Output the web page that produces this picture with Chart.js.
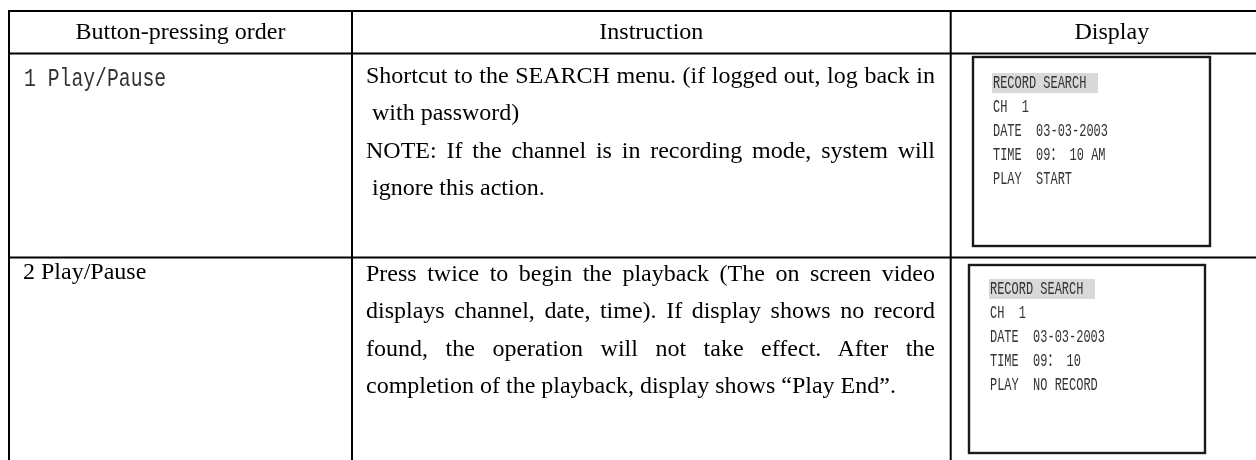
<!DOCTYPE html>
<html>
<head>
<meta charset="utf-8">
<script src="https://cdn.jsdelivr.net/npm/chart.js@4.4.1/dist/chart.umd.min.js"></script>
<style>
  html, body { margin: 0; padding: 0; background: #fff; }
  #wrap { position: relative; width: 1256px; height: 460px; overflow: hidden; }
  #grid { position: absolute; left: 0; top: 0; }
  .t { position: absolute; color: #000; font-family: "Liberation Serif", "Times New Roman", serif; font-size: 24px; line-height: 30px; white-space: pre; }
  .just { white-space: normal; text-align: justify; text-align-last: justify; }
  .mono { font-family: "Liberation Mono", "Noto Sans CJK SC", monospace; color: #333; transform-origin: 0 50%; }
  .scr { position: absolute; font-family: "Liberation Mono", "Noto Sans CJK SC", monospace; font-size: 18px; line-height: 24px; color: #333; white-space: pre; transform: scaleX(0.665); transform-origin: 0 50%; }
  .hl { position: absolute; background: #d9d9d9; }
</style>
</head>
<body>
<div id="wrap">
  <canvas id="grid" width="1256" height="460"></canvas>
</div>
<script>
// Table content
const headers = ['Button-pressing order', 'Instruction', 'Display'];
const steps = ['1 Play/Pause', '2 Play/Pause'];
const instructions = [
  [
    ['Shortcut to the SEARCH menu. (if logged out, log back in', ' with password)'],
    ['NOTE: If the channel is in recording mode, system will', ' ignore this action.']
  ],
  [
    ['Press twice to begin the playback (The on screen video',
     'displays channel, date, time). If display shows no record',
     'found, the operation will not take effect. After the',
     'completion of the playback, display shows “Play End”.']
  ]
];
const screenTitle    = 'RECORD SEARCH';
const screenChannels = ['1', '1'];
const screenDates    = ['03-03-2003', '03-03-2003'];
const screenTimes    = ['09： 10 AM', '09： 10'];
const screenPlay     = ['START', 'NO RECORD'];

// Layout (page pixels)
const colEdges  = [9, 352, 950.7, 1273];
const rowEdges  = [11, 53.5, 257.5, 480];
const stepMono  = [true, false];
const stepBase  = [87, 279];
const textBase  = [83, 281];
const lineGap   = 37.5;
const textLeft  = 366;
const textWidth = 569;
const boxes     = [[973, 57, 1210, 246], [969, 265, 1205, 453]];
const scrTop    = [83, 289];
const scrLeft   = [993, 990];
const scrGap    = 24;

const wrap = document.getElementById('wrap');

function addText(cls, text, left, top, extra) {
  const d = document.createElement('div');
  d.className = cls;
  d.textContent = text;
  d.style.left = left + 'px';
  d.style.top = top + 'px';
  if (extra) Object.assign(d.style, extra);
  wrap.appendChild(d);
  return d;
}

// Table rules + screen frames drawn through the chart's scales
const tableRules = {
  id: 'tableRules',
  afterDraw(chart) {
    const { ctx, scales: { x, y } } = chart;
    ctx.save();
    ctx.fillStyle = '#000';
    const top    = y.getPixelForValue(rowEdges[0]);
    const bottom = y.getPixelForValue(rowEdges[rowEdges.length - 1]);
    const left   = x.getPixelForValue(colEdges[0]);
    const right  = x.getPixelForValue(colEdges[colEdges.length - 1]);
    colEdges.forEach(v => {
      const px = x.getPixelForValue(v);
      ctx.fillRect(px - 1, top - 1, 2, bottom - top + 2);
    });
    rowEdges.forEach(v => {
      const py = y.getPixelForValue(v);
      ctx.fillRect(left - 1, py - 1, right - left + 2, 2);
    });
    ctx.strokeStyle = '#1a1a1a';
    ctx.lineWidth = 2.4;
    boxes.forEach(([x0, y0, x1, y1]) => {
      const a = x.getPixelForValue(x0), b = y.getPixelForValue(y0);
      const c = x.getPixelForValue(x1), d = y.getPixelForValue(y1);
      ctx.strokeRect(a, b, c - a, d - b);
    });
    ctx.restore();
  }
};

new Chart(document.getElementById('grid').getContext('2d'), {
  type: 'scatter',
  data: { datasets: [] },
  options: {
    responsive: false,
    animation: false,
    layout: { padding: 0 },
    plugins: { legend: { display: false }, tooltip: { enabled: false } },
    scales: {
      x: { type: 'linear', min: 0, max: 1256, display: false },
      y: { type: 'linear', min: 0, max: 460, reverse: true, display: false }
    }
  },
  plugins: [tableRules]
});

// Header row
headers.forEach((h, i) => {
  const l = colEdges[i] + 1, w = colEdges[i + 1] - colEdges[i] - 2;
  addText('t', h, l, 16, { width: w + 'px', textAlign: 'center' });
});

// Body rows
steps.forEach((s, r) => {
  if (stepMono[r]) {
    addText('t mono', s, 24, stepBase[r] - 21.7, { fontSize: '25px', transform: 'scaleX(0.79)' });
  } else {
    addText('t', s, 23, stepBase[r] - 23.1);
  }

  let line = 0;
  instructions[r].forEach(par => {
    par.forEach((txt, k) => {
      const last = k === par.length - 1;
      const top = textBase[r] + line * lineGap - 23.1;
      addText(last ? 't' : 't just', txt, textLeft, top, last ? null : { width: textWidth + 'px' });
      line++;
    });
  });

  const rows = [
    screenTitle + ' ',
    'CH  ' + screenChannels[r],
    'DATE  ' + screenDates[r],
    'TIME  ' + screenTimes[r],
    'PLAY  ' + screenPlay[r]
  ];
  const hl = document.createElement('div');
  hl.className = 'hl';
  Object.assign(hl.style, { left: (scrLeft[r] - 1) + 'px', top: (scrTop[r] - 10) + 'px', width: '106px', height: '20px' });
  wrap.appendChild(hl);
  rows.forEach((txt, k) => {
    addText('scr', txt, scrLeft[r], scrTop[r] + k * scrGap - 12);
  });
});
</script>
</body>
</html>
